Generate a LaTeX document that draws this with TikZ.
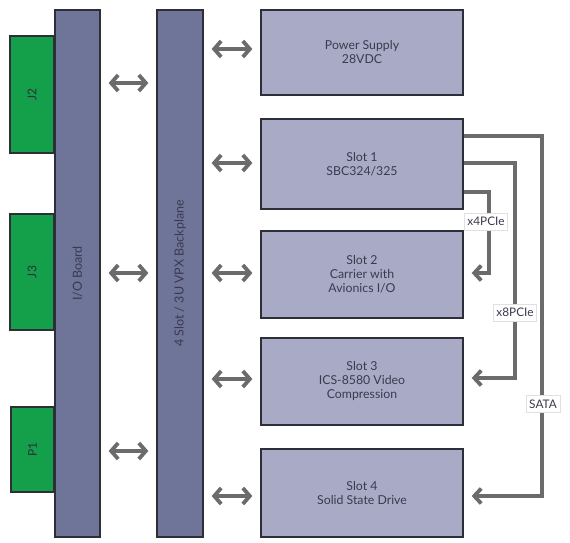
\documentclass[tikz,border=0pt]{standalone}
\usepackage{fontspec}
\setmainfont{Lato}
\usetikzlibrary{arrows.meta}
\definecolor{boardblue}{HTML}{6E7599}
\definecolor{slotfill}{HTML}{A9ABC6}
\definecolor{conngreen}{HTML}{14A04A}
\definecolor{linegray}{HTML}{6B6B6B}
\definecolor{textdark}{HTML}{3A3A4E}
\definecolor{edgedark}{HTML}{2E2E38}
\tikzset{
  board/.style={draw=edgedark, line width=1.3pt, fill=boardblue, inner sep=0pt, text=textdark},
  slotbox/.style={draw=edgedark, line width=1.3pt, fill=slotfill, minimum width=202pt, inner sep=0pt, align=center, text=textdark, font=\fontsize{12.3}{14}\selectfont},
  conbox/.style={draw=edgedark, line width=1.3pt, fill=conngreen, inner sep=0pt},
  context/.style={rotate=90, text=edgedark, font=\fontsize{12}{14}\selectfont},
  boardtext/.style={rotate=90, text=textdark, font=\fontsize{12.5}{14}\selectfont},
  dbl/.style={draw=linegray, line width=3.8pt, {Straight Barb[length=7pt,width=16pt]}-{Straight Barb[length=7pt,width=16pt]}},
  conn/.style={draw=linegray, line width=3.8pt, -{Straight Barb[length=7pt,width=15pt]}},
  lbl/.style={draw=black!12, line width=0.5pt, fill=white, inner xsep=3pt, inner ysep=4pt, text=textdark, font=\fontsize{11.8}{13}\selectfont}
}
\begin{document}
\begin{tikzpicture}[x=1pt,y=-1pt]
\useasboundingbox (0,0) rectangle (570,543);
% connectors (green)
\node[conbox, minimum width=44pt, minimum height=117pt] (j2) at (32,94.5) {};
\node[conbox, minimum width=44pt, minimum height=116pt] (j3) at (32,272) {};
\node[conbox, minimum width=43pt, minimum height=85pt] (p1) at (32.5,449.5) {};
\node[context] (j2t) at (j2) {J2};
\node[context] (j3t) at (j3) {J3};
\node[context] (p1t) at (p1) {P1};
% boards
\node[board, minimum width=45pt, minimum height=527pt] (io) at (77.5,273.5) {};
\node[board, minimum width=46pt, minimum height=527pt] (bp) at (180,273.5) {};
\node[boardtext] (iot) at (io) {I/O Board};
\node[boardtext] (bpt) at (bp) {4 Slot / 3U VPX Backplane};
% slots
\node[slotbox, minimum height=85pt] (ps) at (362,52.5) {Power Supply\\28VDC};
\node[slotbox, minimum height=90pt] (s1) at (362,164) {Slot 1\\SBC324/325};
\node[slotbox, minimum height=87pt] (s2) at (362,274.5) {Slot 2\\Carrier with\\Avionics I/O};
\node[slotbox, minimum height=87pt] (s3) at (362,381.5) {Slot 3\\ICS-8580 Video\\Compression};
\node[slotbox, minimum height=88pt] (s4) at (362,493) {Slot 4\\Solid State Drive};
% double arrows io <-> backplane
\draw[dbl, shorten <=8pt, shorten >=8pt] (io.east |- 0,83) -- (bp.west |- 0,83);
\draw[dbl, shorten <=8pt, shorten >=8pt] (io.east |- 0,273) -- (bp.west |- 0,273);
\draw[dbl, shorten <=8pt, shorten >=8pt] (io.east |- 0,451) -- (bp.west |- 0,451);
% double arrows backplane <-> slots
\draw[dbl, shorten <=8pt, shorten >=8pt] (bp.east |- 0,49) -- (ps.west |- 0,49);
\draw[dbl, shorten <=8pt, shorten >=8pt] (bp.east |- 0,163) -- (s1.west |- 0,163);
\draw[dbl, shorten <=8pt, shorten >=8pt] (bp.east |- 0,273) -- (s2.west |- 0,273);
\draw[dbl, shorten <=8pt, shorten >=8pt] (bp.east |- 0,379) -- (s3.west |- 0,379);
\draw[dbl, shorten <=8pt, shorten >=8pt] (bp.east |- 0,496) -- (s4.west |- 0,496);
% right side links
\coordinate (sataTop) at (542,136);
\coordinate (x8Top) at (515,163);
\coordinate (x4Top) at (489,192);
\draw[conn, shorten >=8pt] (s1.east |- sataTop) -- (sataTop) |- (s4.east |- 0,496);
\draw[conn, shorten >=8pt] (s1.east |- x8Top) -- (x8Top) |- (s3.east |- 0,378);
\draw[conn, shorten >=8pt] (s1.east |- x4Top) -- (x4Top) |- (s2.east |- 0,273);
\node[lbl] (l4) at (486,221.5) {x4PCIe};
\node[lbl] (l8) at (515,312.5) {x8PCIe};
\node[lbl] (ls) at (543,404) {SATA};
\end{tikzpicture}
\end{document}
